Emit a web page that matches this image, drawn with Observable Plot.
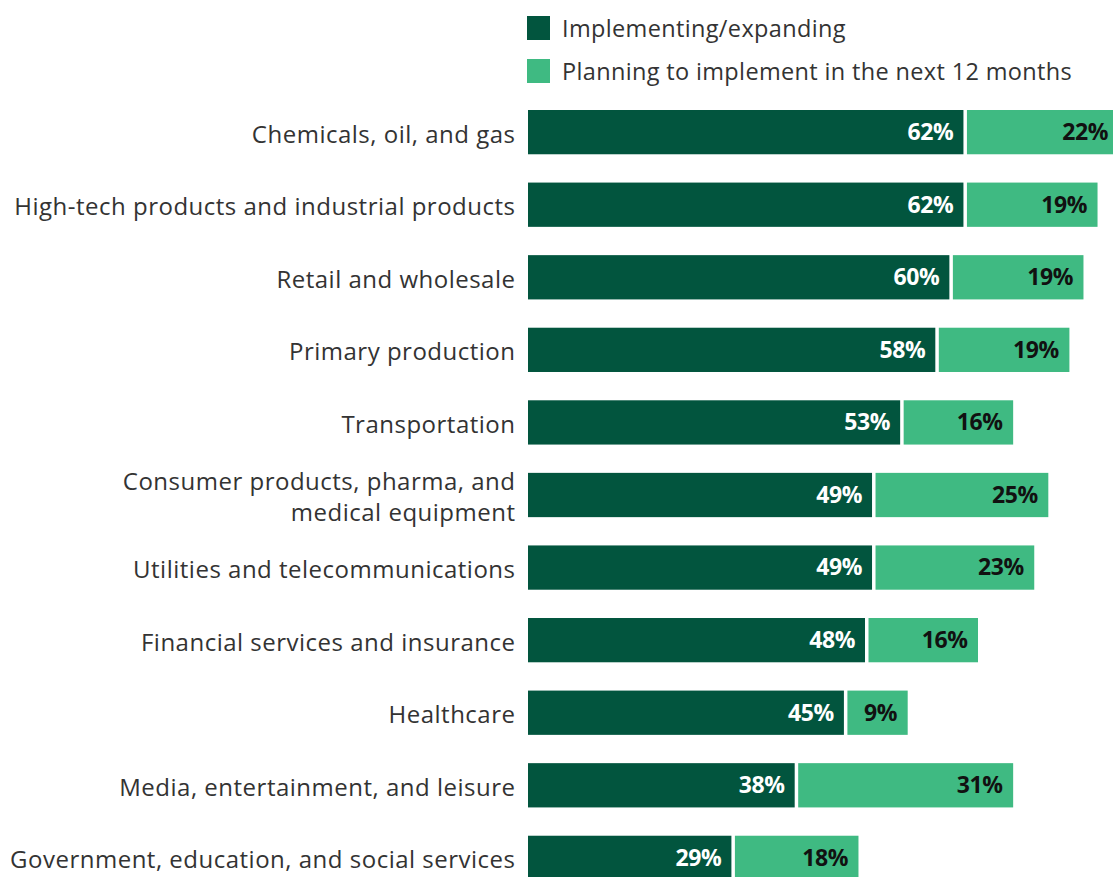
<!DOCTYPE html>
<html>
<head>
<meta charset="utf-8">
<script src="https://cdn.jsdelivr.net/npm/d3@7"></script>
<script src="https://cdn.jsdelivr.net/npm/@observablehq/plot@0.6"></script>
<style>
  html, body { margin: 0; padding: 0; background: #fff; }
  body { width: 1113px; height: 877px; overflow: hidden; font-family: "Open Sans", sans-serif; }
  #legend { position: relative; height: 90px; }
  .item { position: absolute; left: 527px; display: flex; align-items: center; font-size: 23.5px; color: #333; line-height: 24px; white-space: nowrap; letter-spacing: 0.35px; }
  .sw { width: 23px; height: 24px; margin-right: 12px; flex: none; }
  #chart svg { display: block; }
  #chart svg g[aria-label="y-axis tick label"] text { letter-spacing: 0.5px; }
  #chart svg g[aria-label="text"] text { letter-spacing: -0.4px; }
</style>
</head>
<body>
<div id="legend">
  <div class="item" style="top:16px"><span class="sw" style="background:#02553e"></span>Implementing/expanding</div>
  <div class="item" style="top:59px"><span class="sw" style="background:#3fba82"></span>Planning to implement in the next 12 months</div>
</div>
<div id="chart"></div>
<script>
const categories = [
  "Chemicals, oil, and gas",
  "High-tech products and industrial products",
  "Retail and wholesale",
  "Primary production",
  "Transportation",
  "Consumer products, pharma, and\nmedical equipment",
  "Utilities and telecommunications",
  "Financial services and insurance",
  "Healthcare",
  "Media, entertainment, and leisure",
  "Government, education, and social services"
];
const implementing = [62, 62, 60, 58, 53, 49, 49, 48, 45, 38, 29];
const planning = [22, 19, 19, 19, 16, 25, 23, 16, 9, 31, 18];
const seriesNames = ["Implementing/expanding", "Planning to implement in the next 12 months"];
const colors = ["#02553e", "#3fba82"];

const rows = [];
categories.forEach((c, i) => {
  rows.push({cat: c, series: seriesNames[0], x1: 0, x2: implementing[i], v: implementing[i]});
  rows.push({cat: c, series: seriesNames[1], x1: implementing[i], x2: implementing[i] + planning[i], v: planning[i]});
});
const dark = rows.filter(d => d.series === seriesNames[0]);
const light = rows.filter(d => d.series === seriesNames[1]);

const chart = Plot.plot({
  width: 1113,
  height: 787,
  marginLeft: 528,
  marginRight: 0,
  marginTop: 0,
  marginBottom: 0,
  x: {domain: [0, 83.2], axis: null},
  y: {domain: categories, range: [20, 790], round: false, paddingInner: 0.39, paddingOuter: 0, label: null},
  color: {domain: seriesNames, range: colors},
  style: {fontFamily: "'Open Sans', sans-serif", background: "#fff"},
  marks: [
    Plot.axisY({tickSize: 0, tickPadding: 13, fontSize: 24, color: "#333", label: null, lineHeight: 1.3}),
    Plot.barX(dark, {y: "cat", x1: "x1", x2: "x2", fill: "series", insetRight: 0.5}),
    Plot.barX(light, {y: "cat", x1: "x1", x2: "x2", fill: "series", insetLeft: 3}),
    Plot.text(dark, {y: "cat", x: "x2", text: d => d.v + "%", textAnchor: "end", dx: -11, fill: "#fff", fontWeight: "bold", fontSize: 23}),
    Plot.text(light, {y: "cat", x: "x2", text: d => d.v + "%", textAnchor: "end", dx: -11, fill: "#111", fontWeight: "bold", fontSize: 23})
  ]
});
document.getElementById("chart").appendChild(chart);
</script>
</body>
</html>
